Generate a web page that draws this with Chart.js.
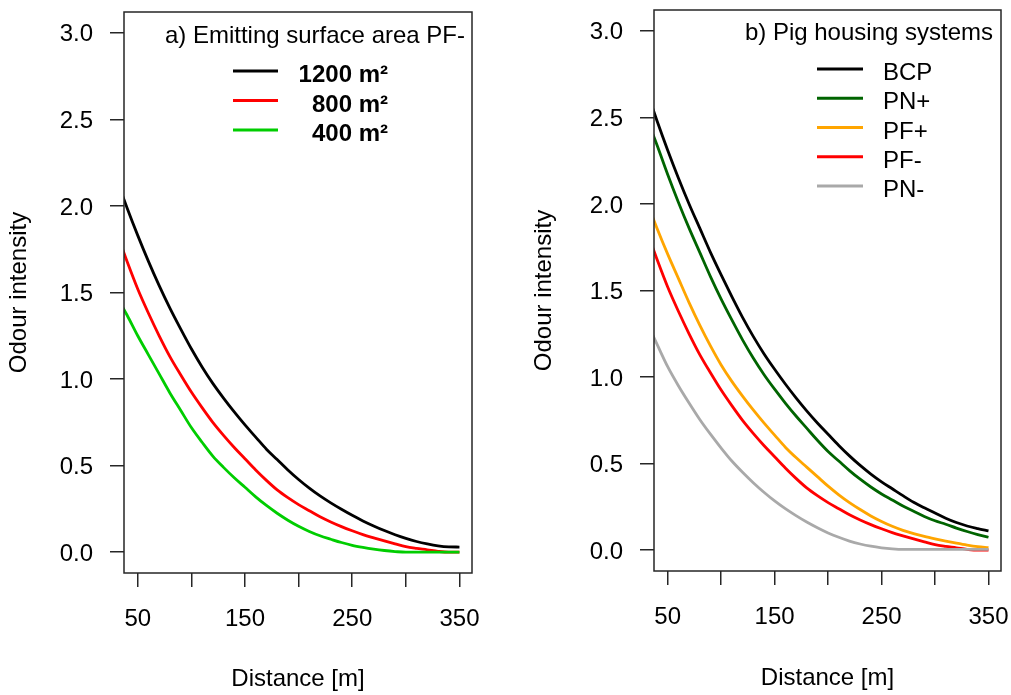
<!DOCTYPE html>
<html>
<head>
<meta charset="utf-8">
<script src="https://cdn.jsdelivr.net/npm/chart.js@4.4.0/dist/chart.umd.min.js"></script>
<style>
  html, body { margin: 0; padding: 0; background: #fff; }
  #wrap { position: relative; width: 1011px; height: 695px; }
  canvas { position: absolute; top: 0; }
  #plot-a { left: 0; }
  #plot-b { left: 505px; }
</style>
</head>
<body>
<div id="wrap">
  <canvas id="plot-a" width="505" height="695"></canvas>
  <canvas id="plot-b" width="506" height="695"></canvas>
</div>
<script>
// distances in m (first point lies left of the visible axis and is clipped)
const distance = [30, 40, 50, 60, 70, 80, 90, 100, 110, 120, 130, 140, 150, 160, 170, 180, 190,
  200, 210, 220, 230, 240, 250, 260, 270, 280, 290, 300, 310, 320, 330, 340, 350];

// a) emitting surface area, PF-
const area1200 = [2.16, 1.99, 1.83, 1.68, 1.54, 1.41, 1.29, 1.175, 1.07, 0.975, 0.89, 0.81, 0.735,
  0.665, 0.595, 0.535, 0.475, 0.42, 0.37, 0.325, 0.285, 0.248, 0.213, 0.181, 0.152, 0.125, 0.101,
  0.08, 0.062, 0.048, 0.037, 0.031, 0.03];
const area800 = [1.85, 1.68, 1.52, 1.38, 1.25, 1.13, 1.025, 0.925, 0.835, 0.75, 0.675, 0.605, 0.54,
  0.475, 0.415, 0.36, 0.315, 0.275, 0.24, 0.205, 0.175, 0.148, 0.124, 0.102, 0.083, 0.065, 0.048,
  0.032, 0.022, 0.014, 0.005, 0, 0];
const area400 = [1.48, 1.37, 1.25, 1.14, 1.03, 0.92, 0.82, 0.72, 0.635, 0.555, 0.49, 0.43, 0.375,
  0.32, 0.27, 0.225, 0.185, 0.15, 0.12, 0.095, 0.075, 0.056, 0.04, 0.028, 0.018, 0.01, 0.004,
  0, 0, 0, 0, 0, 0];

// b) pig housing systems
const bcp = [2.66, 2.48, 2.31, 2.15, 2.0, 1.86, 1.72, 1.59, 1.465, 1.345, 1.235, 1.135, 1.045,
  0.96, 0.88, 0.805, 0.735, 0.67, 0.605, 0.545, 0.49, 0.44, 0.395, 0.355, 0.315, 0.277, 0.245,
  0.215, 0.185, 0.16, 0.14, 0.125, 0.112];
const pnPlus = [2.5, 2.34, 2.17, 2.01, 1.86, 1.72, 1.58, 1.45, 1.33, 1.215, 1.11, 1.015, 0.93,
  0.85, 0.775, 0.705, 0.635, 0.57, 0.515, 0.46, 0.41, 0.365, 0.325, 0.29, 0.255, 0.225, 0.195,
  0.17, 0.15, 0.128, 0.108, 0.09, 0.075];
const pfPlus = [2.02, 1.86, 1.71, 1.57, 1.43, 1.3, 1.18, 1.07, 0.975, 0.89, 0.81, 0.735, 0.665,
  0.595, 0.535, 0.48, 0.425, 0.37, 0.32, 0.275, 0.235, 0.198, 0.166, 0.138, 0.115, 0.096, 0.08,
  0.066, 0.053, 0.041, 0.03, 0.021, 0.015];
const pfMinus = [1.85, 1.68, 1.52, 1.38, 1.25, 1.13, 1.025, 0.925, 0.835, 0.75, 0.675, 0.605, 0.54,
  0.475, 0.415, 0.36, 0.315, 0.275, 0.24, 0.205, 0.175, 0.148, 0.124, 0.102, 0.083, 0.065, 0.048,
  0.032, 0.022, 0.014, 0.005, 0, 0];
const pnMinus = [1.32, 1.19, 1.06, 0.95, 0.85, 0.755, 0.67, 0.59, 0.515, 0.45, 0.39, 0.335, 0.285,
  0.24, 0.2, 0.163, 0.13, 0.1, 0.075, 0.053, 0.036, 0.023, 0.014, 0.008, 0.005, 0.005, 0.005,
  0.005, 0.005, 0.005, 0.005, 0.005, 0.005];

const xTicks = [50, 100, 150, 200, 250, 300, 350];
const xTickLabels = [50, 150, 250, 350];
const yTicks = [0, 0.5, 1, 1.5, 2, 2.5, 3];

const FONT = '"Liberation Sans", Arial, Helvetica, sans-serif';
const INK = "#000000";
const AXIS = "#262626";

function pairs(values) {
  return distance.map((d, i) => ({ x: d, y: values[i] }));
}

function makeDatasets(labels, series, colors) {
  return series.map((vals, i) => ({
    label: labels[i],
    data: pairs(vals),
    borderColor: colors[i],
    backgroundColor: colors[i],
    borderWidth: 2.8,
    pointRadius: 0,
    cubicInterpolationMode: "monotone",
    clip: 0,
    order: -i, // later series on top, like R
  }));
}

// box round the plot region, title and legend inside it
const insideBox = {
  id: "insideBox",
  afterDraw(chart, args, o) {
    const { ctx, chartArea: a } = chart;
    ctx.save();
    ctx.strokeStyle = AXIS;
    ctx.lineWidth = 1.5;
    ctx.strokeRect(a.left, a.top, a.right - a.left, a.bottom - a.top);

    ctx.fillStyle = INK;
    ctx.font = "24px " + FONT;
    ctx.textAlign = "right";
    ctx.textBaseline = "alphabetic";
    ctx.fillText(o.title, o.titleX, o.titleY);

    chart.data.datasets.forEach((ds, i) => {
      const y = o.legendY + i * o.legendStep;
      ctx.strokeStyle = ds.borderColor;
      ctx.lineWidth = 2.8;
      ctx.beginPath();
      ctx.moveTo(o.lineX0, y);
      ctx.lineTo(o.lineX1, y);
      ctx.stroke();
      ctx.fillStyle = INK;
      ctx.font = o.legendWeight + " 24px " + FONT;
      ctx.textAlign = o.legendAlign;
      ctx.fillText(ds.label, o.textX, y + 11);
    });
    ctx.restore();
  },
};

function noEdgePadding(s) {
  s.paddingTop = 0;
  s.paddingBottom = 0;
  s.paddingLeft = 0;
  s.paddingRight = 0;
}

function makeConfig(datasets, p) {
  return {
    type: "line",
    data: { datasets: datasets },
    plugins: [insideBox],
    options: {
      responsive: false,
      animation: false,
      devicePixelRatio: 1,
      layout: { padding: { left: 0, top: p.top, right: p.right, bottom: 0 } },
      scales: {
        x: {
          type: "linear",
          min: 37.2,
          max: 361.7,
          afterBuildTicks: (s) => { s.ticks = xTicks.map((v) => ({ value: v })); },
          afterFit: (s) => { s.height = p.xHeight; noEdgePadding(s); },
          border: { display: false },
          grid: { drawOnChartArea: false, tickLength: 14, color: AXIS, lineWidth: 1.5 },
          ticks: {
            autoSkip: false,
            maxRotation: 0,
            padding: p.xTickPad,
            color: INK,
            font: { family: FONT, size: 24 },
            callback: (v) => (xTickLabels.includes(v) ? String(v) : ""),
          },
          title: {
            display: true,
            text: "Distance [m]",
            color: INK,
            font: { family: FONT, size: 24 },
            padding: { top: 0, bottom: p.xTitlePad },
          },
        },
        y: {
          min: -0.12,
          max: 3.12,
          afterBuildTicks: (s) => { s.ticks = yTicks.map((v) => ({ value: v })); },
          afterFit: (s) => { s.width = p.yWidth; noEdgePadding(s); },
          border: { display: false },
          grid: { drawOnChartArea: false, tickLength: 14, color: AXIS, lineWidth: 1.5 },
          ticks: {
            padding: 17,
            labelOffset: 2,
            color: INK,
            font: { family: FONT, size: 24 },
            callback: (v) => v.toFixed(1),
          },
          title: {
            display: true,
            text: "Odour intensity",
            color: INK,
            font: { family: FONT, size: 24 },
            padding: { top: p.yTitlePad, bottom: 0 },
          },
        },
      },
      plugins: {
        legend: { display: false },
        tooltip: { enabled: false },
        insideBox: p.box,
      },
    },
  };
}

function drawPlotA() {
  const datasets = makeDatasets(
    ["1200 m²", "800 m²", "400 m²"],
    [area1200, area800, area400],
    ["#000000", "#ff0000", "#00cd00"]
  );
  const config = makeConfig(datasets, {
    top: 12, right: 33, xHeight: 122, yWidth: 124,
    xTickPad: 18, xTitlePad: 1.5, yTitlePad: 5,
    box: {
      title: "a) Emitting surface area PF-", titleX: 465, titleY: 43,
      legendY: 71, legendStep: 29.5, lineX0: 233, lineX1: 278,
      textX: 388, legendAlign: "right", legendWeight: "bold",
    },
  });
  new Chart(document.getElementById("plot-a").getContext("2d"), config);
}

function drawPlotB() {
  const datasets = makeDatasets(
    ["BCP", "PN+", "PF+", "PF-", "PN-"],
    [bcp, pnPlus, pfPlus, pfMinus, pnMinus],
    ["#000000", "#006400", "#ffa500", "#ff0000", "#a9a9a9"]
  );
  const config = makeConfig(datasets, {
    top: 10, right: 10, xHeight: 124, yWidth: 149,
    xTickPad: 18, xTitlePad: 2, yTitlePad: 25,
    box: {
      title: "b) Pig housing systems", titleX: 488, titleY: 39.5,
      legendY: 69, legendStep: 29.25, lineX0: 312, lineX1: 358,
      textX: 378, legendAlign: "left", legendWeight: "normal",
    },
  });
  new Chart(document.getElementById("plot-b").getContext("2d"), config);
}

drawPlotA();
drawPlotB();
</script>
</body>
</html>
